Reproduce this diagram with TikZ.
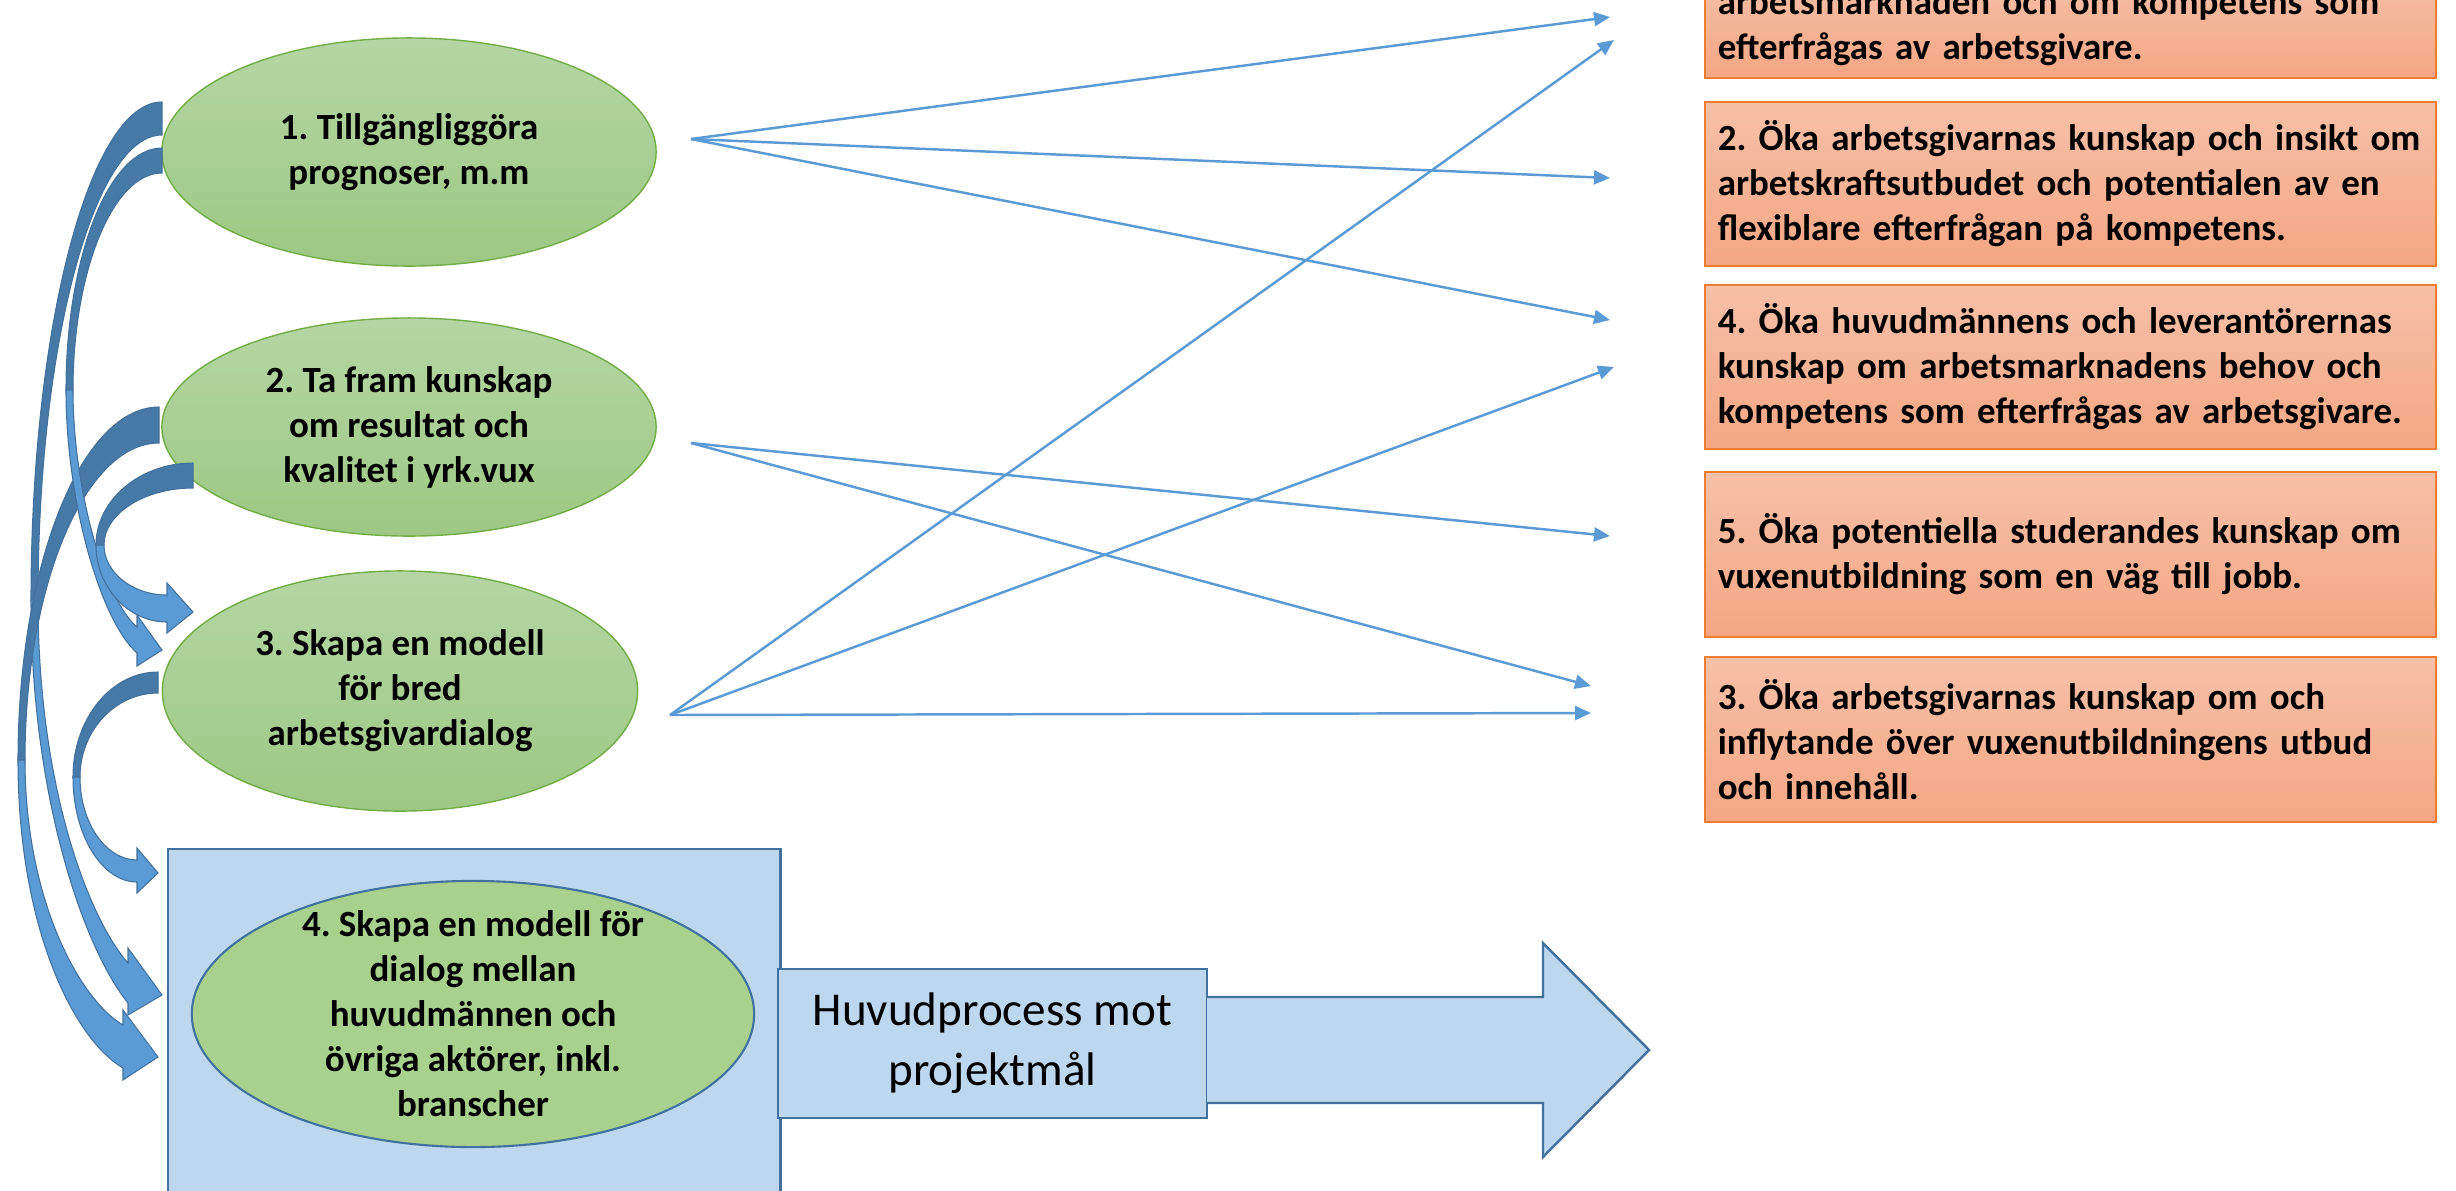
\documentclass[tikz,border=0pt]{standalone}
\usepackage{fontspec}
\setmainfont{Carlito}
\usepackage{tikz}
\usetikzlibrary{arrows.meta,shapes.geometric}
\frenchspacing

\definecolor{ovalTop}{RGB}{181,214,164}
\definecolor{ovalBottom}{RGB}{157,200,132}
\definecolor{ovalLine}{RGB}{112,173,71}
\definecolor{ovalFlat}{RGB}{169,209,142}
\definecolor{panelFill}{RGB}{189,215,238}
\definecolor{panelLine}{RGB}{65,113,156}
\definecolor{goalTop}{RGB}{247,192,168}
\definecolor{goalBottom}{RGB}{244,166,131}
\definecolor{goalLine}{RGB}{237,125,49}
\definecolor{linkBlue}{RGB}{91,155,213}
\definecolor{bandDark}{RGB}{71,121,166}
\definecolor{bandLight}{RGB}{91,155,213}

\begin{document}
\begin{tikzpicture}[x=0.01cm, y=-0.01cm,
    oval/.style={ellipse, inner sep=0pt, align=center,
        font=\bfseries\fontsize{10.5}{12.8}\selectfont},
    greenoval/.style={oval, draw=ovalLine, line width=0.4pt,
        top color=ovalTop, bottom color=ovalBottom},
    goal/.style={rectangle, draw=goalLine, line width=0.6pt,
        top color=goalTop, bottom color=goalBottom,
        minimum width=7.31cm, text width=7.05cm, inner xsep=0.13cm,
        inner ysep=0pt, align=left,
        font=\bfseries\fontsize{10.5}{12.8}\selectfont},
    panel/.style={draw=panelLine, line width=0.7pt, fill=panelFill},
    link/.style={draw=linkBlue, line width=0.7pt,
        -{Triangle[length=1.6mm,width=1.4mm]}},
    bandback/.style={fill=bandDark, draw=panelLine, line width=0.3pt},
    bandfront/.style={fill=bandLight, draw=panelLine, line width=0.3pt}]

    \useasboundingbox (0,0) rectangle (2456,1190);
    \clip (0,0) rectangle (2456,1190);

    % Nodes
    \node[greenoval, minimum width=4.94cm, minimum height=2.28cm] (prog) at (409,152)
        {1. Tillgängliggöra\\prognoser, m.m};
    \node[greenoval, minimum width=4.94cm, minimum height=2.18cm] (kval) at (409,427)
        {2. Ta fram kunskap\\om resultat och\\kvalitet i yrk.vux};
    \node[greenoval, minimum width=4.75cm, minimum height=2.40cm] (bred) at (400,691)
        {3. Skapa en modell\\för bred\\arbetsgivardialog};

    \node[panel, rectangle, minimum width=6.12cm, minimum height=3.8cm,
        anchor=north west] (frame) at (167,848) {};
    \node[oval, draw=panelLine, line width=0.6pt, fill=ovalFlat, inner ysep=-2mm,
        minimum width=5.62cm, minimum height=2.66cm] (dialog) at (473,1014)
        {4. Skapa en modell för\\dialog mellan\\huvudmännen och\\övriga aktörer, inkl.\\branscher};

    \node[panel, rectangle, minimum width=4.29cm, minimum height=1.49cm, align=center,
        font=\fontsize{13.4}{17}\selectfont] (proc) at (992.5,1043.5)
        {Huvudprocess mot\\projektmål};
    \draw[panel] (1207,997) -- (1543,997) -- (1543,943) -- (1649,1050)
        -- (1543,1157) -- (1543,1103) -- (1207,1103);

    % Goals
    \node[goal, minimum height=1.01cm] (g1) at (2070.5,27.5)
        {arbetsmarknaden och om kompetens som\\efterfrågas av arbetsgivare.};
    \node[goal, minimum height=1.64cm] (g2) at (2070.5,184)
        {2. Öka arbetsgivarnas kunskap och insikt om\\arbetskraftsutbudet och potentialen av en\\flexiblare efterfrågan på kompetens.};
    \node[goal, minimum height=1.64cm] (g3) at (2070.5,367)
        {4. Öka huvudmännens och leverantörernas\\kunskap om arbetsmarknadens behov och\\kompetens som efterfrågas av arbetsgivare.};
    \node[goal, minimum height=1.65cm] (g4) at (2070.5,554.5)
        {5. Öka potentiella studerandes kunskap om\\vuxenutbildning som en väg till jobb.};
    \node[goal, minimum height=1.65cm] (g5) at (2070.5,739.5)
        {3. Öka arbetsgivarnas kunskap om och\\inflytande över vuxenutbildningens utbud\\och innehåll.};

    % Arrow ends
    \coordinate (s1) at (691,139);
    \coordinate (s2) at (691,443);
    \coordinate (s3) at (670,715);
    \coordinate (t1) at (1610,17);
    \coordinate (t2) at (1610,178);
    \coordinate (t3) at (1610,320);
    \coordinate (t4) at (1610,536);
    \coordinate (t5) at (1591,686);
    \coordinate (t6) at (1614,40);
    \coordinate (t7) at (1614,367);
    \coordinate (t8) at (1591,713);

    % Straight Arrows
    \draw[link] (s1) -- (t1);
    \draw[link] (s1) -- (t2);
    \draw[link] (s1) -- (t3);
    \draw[link] (s2) -- (t4);
    \draw[link] (s2) -- (t5);
    \draw[link] (s3) -- (t6);
    \draw[link] (s3) -- (t7);
    \draw[link] (s3) -- (t8);

    % Curved Arrows (1 -> 4)
    \draw[bandback] (162,102) .. controls (90,102) and (31,326) .. (31,600)
        -- (38,600) .. controls (38,344) and (94,135) .. (162,135) -- cycle;
    \draw[bandfront] (31,600) .. controls (31,800) and (85,950) .. (128,1003)
        -- (128,1015) -- (162,995) -- (128,948) -- (128,963)
        .. controls (90,920) and (38,790) .. (38,600) -- cycle;

    % Curved Arrows (2 -> 4)
    \draw[bandback] (159,407) .. controls (81,407) and (18,566) .. (18,760)
        -- (25,760) .. controls (25,586) and (85,443) .. (159,443) -- cycle;
    \draw[bandfront] (18,760) .. controls (18,930) and (75,1040) .. (123,1068)
        -- (123,1080) -- (158,1057) -- (123,1010) -- (123,1025)
        .. controls (80,1000) and (25,900) .. (25,760) -- cycle;

    % Curved Arrows (1 -> 3)
    \draw[bandback] (162,148) .. controls (109,148) and (66,257) .. (66,390)
        -- (73,390) .. controls (73,271) and (113,173) .. (162,173) -- cycle;
    \draw[bandfront] (66,390) .. controls (66,500) and (100,620) .. (137,653)
        -- (137,666) -- (162,650) -- (137,615) -- (137,627)
        .. controls (105,600) and (73,490) .. (73,390) -- cycle;

    % Curved Arrows (2 -> 3)
    \draw[bandback] (193,463) .. controls (140,463) and (96,500) .. (96,545)
        -- (104,545) .. controls (104,514) and (144,488) .. (193,488) -- cycle;
    \draw[bandfront] (96,545) .. controls (96,587) and (128,622) .. (167,622)
        -- (167,633) -- (193,612) -- (167,583) -- (167,595)
        .. controls (132,595) and (104,572) .. (104,545) -- cycle;

    % Curved Arrows (3 -> 4)
    \draw[bandback] (158,672) .. controls (111,672) and (73,719) .. (73,777)
        -- (80,777) .. controls (80,731) and (115,693) .. (158,693) -- cycle;
    \draw[bandfront] (73,777) .. controls (73,835) and (102,882) .. (137,882)
        -- (137,893) -- (158,873) -- (137,848) -- (137,860)
        .. controls (106,860) and (80,823) .. (80,777) -- cycle;
\end{tikzpicture}
\end{document}
